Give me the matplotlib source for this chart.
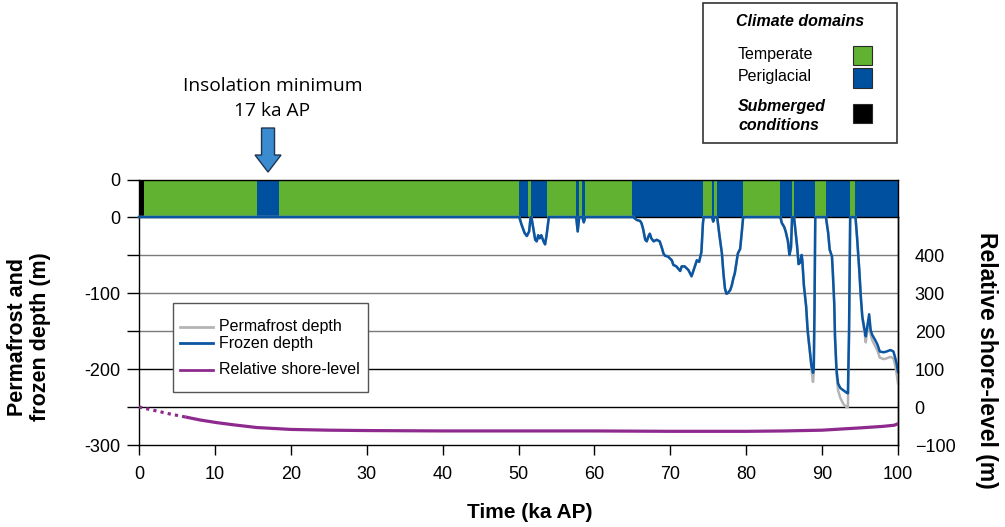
import matplotlib
matplotlib.use("Agg")
import matplotlib.pyplot as plt
from matplotlib.patches import Rectangle, FancyArrow
from matplotlib.lines import Line2D

plt.rcParams["font.family"] = ["Liberation Sans", "DejaVu Sans"]

# ---------------------------
# DATA
# ---------------------------
# climate domain segments (ka AP)
domain_edges = [0, 0.7, 15.6, 18.4, 50.1, 51.2, 51.6, 53.8, 57.6, 58.0, 58.4, 58.8,
                65.0, 74.3, 75.5, 75.8, 76.1, 79.6, 84.5, 86.1, 86.3, 89.1, 90.5,
                93.7, 94.4, 100]
domain_names = ["sub", "temp", "peri", "temp", "peri", "temp", "peri", "temp", "peri",
                "temp", "peri", "temp", "peri", "temp", "peri", "temp", "peri", "temp",
                "peri", "temp", "peri", "temp", "peri", "temp", "peri"]

# frozen / permafrost depth (m)
time_ka = [0.0, 50.1, 50.4, 50.8, 51.1, 51.4, 51.6, 51.7, 52.2, 52.4, 52.6, 52.8,
           53.0, 53.3, 53.5, 53.7, 54.0, 57.6, 57.8, 58.0, 58.4, 58.6, 58.8, 65.1,
           65.6, 66.0, 66.2, 66.4, 66.7, 66.9, 67.1, 67.3, 67.5, 67.8, 68.2, 68.6,
           68.9, 69.1, 69.3, 69.7, 70.2, 70.4, 70.8, 71.3, 71.5, 71.9, 72.4, 72.8,
           73.0, 73.5, 73.8, 74.1, 74.3, 74.4, 75.5, 75.65, 75.8, 76.1, 76.2, 76.5,
           76.8, 77.0, 77.2, 77.4, 77.6, 77.9, 78.1, 78.3, 78.5, 78.7, 78.9, 79.2,
           79.4, 79.6, 84.5, 84.7, 85.0, 85.2, 85.5, 85.7, 85.9, 86.05, 86.3, 86.5,
           86.7, 86.9, 87.1, 87.3, 87.4, 87.6, 87.9, 88.1, 88.4, 88.6, 88.8, 88.9,
           89.0, 89.1, 90.5, 90.8, 91.0, 91.3, 91.4, 91.6, 91.7, 91.9, 92.1, 92.4,
           92.8, 93.2, 93.4, 93.55, 93.7, 94.4, 94.6, 94.9, 95.1, 95.3, 95.6, 95.75,
           95.95, 96.2, 96.4, 96.6, 97.0, 97.3, 97.6, 98.1, 98.5, 99.0, 99.4, 99.6,
           99.8, 100.0]
frozen_depth = [0, 0, -10, -21, -25, -19, 0, 0, -30, -32, -24, -28,
                -24, -32, -36, -24, 0, 0, -19, 0, 0, -7, 0, 0,
                -4, -5, -8, -15, -30, -32, -26, -22, -28, -32, -30, -32,
                -41, -48, -51, -52, -57, -63, -65, -71, -65, -65, -70, -78,
                -72, -57, -59, -46, -8, 0, 0, -6, 0, 0, -2, -26,
                -48, -74, -94, -101, -100, -96, -90, -81, -74, -61, -48, -42,
                -22, 0, 0, -8, -13, -19, -32, -50, -40, 0, 0, -19,
                -38, -62, -60, -50, -58, -90, -118, -150, -178, -196, -205, -200,
                -120, 0, 0, -21, -43, -52, -70, -114, -157, -201, -219, -225,
                -228, -231, -232, -150, 0, 0, -26, -70, -105, -131, -149, -157,
                -144, -128, -149, -155, -162, -168, -177, -178, -177, -175, -177, -184,
                -192, -204]
permafrost_depth = [0, 0, -10, -21, -25, -19, 0, 0, -30, -32, -24, -28,
                    -24, -32, -36, -24, 0, 0, -19, 0, 0, -7, 0, 0,
                    -4, -5, -8, -15, -30, -32, -26, -22, -28, -32, -30, -32,
                    -41, -48, -51, -52, -57, -63, -65, -71, -65, -65, -70, -78,
                    -72, -57, -59, -46, -8, 0, 0, -6, 0, 0, -2, -26,
                    -48, -74, -94, -101, -100, -96, -90, -81, -74, -61, -48, -42,
                    -22, 0, 0, -8, -13, -19, -32, -50, -40, 0, 0, -19,
                    -38, -62, -60, -50, -58, -90, -118, -150, -178, -200, -217, -205,
                    -120, 0, 0, -21, -43, -52, -70, -114, -160, -206, -228, -238,
                    -246, -250, -250, -160, 0, 0, -26, -70, -105, -133, -153, -165,
                    -150, -133, -155, -162, -170, -176, -185, -187, -186, -184, -186, -194,
                    -205, -219]

# relative shore-level (m)
shore_time_dotted = [0, 2, 4, 6.3]
shore_level_dotted = [0, -9, -18, -27]
shore_time = [6.3, 8, 10.2, 12.5, 15.5, 20, 25, 30, 40, 50, 60, 70, 80, 85, 90, 95, 98, 99.5, 100]
shore_level = [-27, -34, -41, -47, -54, -59, -61, -62, -63, -63, -63, -64, -64, -63, -61, -55, -51, -48, -44]

insolation_min_ka = 17

# ---------------------------
# STYLE
# ---------------------------
GREEN = "#62b232"
BLUE = "#0050a0"
LINE_BLUE = "#0a56a2"
GRAY = "#b4b4b4"
PURPLE = "#8e2a8e"
domain_colors = {"sub": "black", "temp": GREEN, "peri": BLUE}

W, H = 1005, 527


def fx(px):
    return px / W


def fy(py):
    return 1 - py / H


fig = plt.figure(figsize=(W / 100, H / 100), dpi=100)

ax = fig.add_axes([fx(139), fy(445), fx(898) - fx(139), fy(217) - fy(445)])
axb = fig.add_axes([fx(139), fy(217), fx(898) - fx(139), fy(180) - fy(217)])
axb.set_zorder(0)
ax.set_zorder(1)
ax.patch.set_visible(False)

# ---------------------------
# CLIMATE DOMAIN BAR
# ---------------------------
segs = [(domain_edges[i], domain_edges[i + 1] - domain_edges[i]) for i in range(len(domain_names))]
axb.broken_barh(segs, (0, 1), facecolors=[domain_colors[d] for d in domain_names], linewidth=0)
axb.set_xlim(0, 100)
axb.set_ylim(0, 1)
axb.set_xticks([])
axb.set_yticks([1])
axb.set_yticklabels(["0"], fontsize=13)
axb.tick_params(axis="y", length=8.5, width=1, pad=5)
axb.spines["bottom"].set_visible(False)
for s in ["top", "left", "right"]:
    axb.spines[s].set_linewidth(1.0)

arrow = FancyArrow(insolation_min_ka, 2.405, 0, -1.19, width=1.71, head_width=3.43,
                   head_length=0.46, length_includes_head=True, transform=axb.transData,
                   clip_on=False, facecolor="#3b8bd0", edgecolor="#1f3550", linewidth=1)
axb.add_patch(arrow)

# ---------------------------
# MAIN AXES: DEPTHS
# ---------------------------
grid_levels = [-50, -100, -150, -200, -250]
grid_colors = ["#7a7a7a", "#7a7a7a", "#7a7a7a", "black", "black"]
for yv, c in zip(grid_levels, grid_colors):
    ax.axhline(yv, color=c, lw=1.0, zorder=1)

ax.set_xlim(0, 100)
ax.set_ylim(-300, 0)
ax.set_xticks(range(0, 101, 10))
ax.set_yticks(range(-300, 1, 50))
ax.set_yticklabels([str(v) if v % 100 == 0 else "" for v in range(-300, 1, 50)])
ax.tick_params(axis="y", length=8.5, width=1, pad=5, labelsize=13)
ax.tick_params(axis="x", length=7, width=1, pad=8, labelsize=13)
for s in ax.spines.values():
    s.set_linewidth(1.0)

# ---------------------------
# RIGHT AXIS: SHORE LEVEL + DEPTH CURVES ON TOP
# ---------------------------
axr = ax.twinx()
axr.set_zorder(2)
axr.set_ylim(-100, 500)
for s in ["top", "left", "bottom"]:
    axr.spines[s].set_visible(False)
axr.spines["right"].set_linewidth(1.0)
axr.plot(shore_time_dotted, shore_level_dotted, color=PURPLE, lw=2.3,
         linestyle=(0, (1, 1.3)), zorder=3)
axr.plot(shore_time, shore_level, color=PURPLE, lw=2.3, zorder=3)
axr.set_yticks(range(-100, 401, 100))
axr.tick_params(axis="y", length=0, pad=12, labelsize=13)

# depth curves drawn on the main scale but above the twin's spines
ax.plot(time_ka, permafrost_depth, color=GRAY, lw=1.8, zorder=3, clip_on=False)
ax.plot(time_ka, frozen_depth, color=LINE_BLUE, lw=1.8, zorder=4, clip_on=False)
ax.spines["top"].set_zorder(2)

# ---------------------------
# LABELS
# ---------------------------
fig.text(fx(29), fy(337), "Permafrost and\nfrozen depth (m)", rotation=90, ha="center",
         va="center", multialignment="center", fontsize=15.5, fontweight="bold", linespacing=1.15)
fig.text(fx(986), fy(360), "Relative shore-level (m)", rotation=-90, ha="center",
         va="center", fontsize=16.5, fontweight="bold")
fig.text(fx(530), fy(512), "Time (ka AP)", ha="center", va="center", fontsize=15,
         fontweight="bold")

fig.text(fx(273), fy(86), "Insolation minimum", ha="center", va="center", fontsize=13.8,
         family=["Open Sans", "DejaVu Sans"])
fig.text(fx(272), fy(111), "17 ka AP", ha="center", va="center", fontsize=13.8,
         family=["Open Sans", "DejaVu Sans"])

# ---------------------------
# LEGEND: LINES (lower left)
# ---------------------------
fig.add_artist(Rectangle((fx(172.7), fy(391.7)), fx(367.7) - fx(172.7), fy(303.3) - fy(391.7),
                         transform=fig.transFigure, facecolor="white", edgecolor="#555555",
                         lw=1.0, zorder=10))
for py, c, lab in [(326.7, GRAY, "Permafrost depth"), (343.3, LINE_BLUE, "Frozen depth"),
                   (370.0, PURPLE, "Relative shore-level")]:
    fig.add_artist(Line2D([fx(180), fx(212.7)], [fy(py), fy(py)], transform=fig.transFigure,
                          color=c, lw=2, zorder=11))
    fig.text(fx(219), fy(py), lab, ha="left", va="center", fontsize=11.5, zorder=11)

# ---------------------------
# LEGEND: CLIMATE DOMAINS (top right)
# ---------------------------
fig.add_artist(Rectangle((fx(703.3), fy(143.3)), fx(896.7) - fx(703.3), fy(3.3) - fy(143.3),
                         transform=fig.transFigure, facecolor="white", edgecolor="#333333",
                         lw=1.2, zorder=10))
fig.text(fx(800), fy(21.7), "Climate domains", ha="center", va="center", fontsize=11.5,
         fontweight="bold", style="italic", zorder=11)
fig.text(fx(738), fy(54), "Temperate", ha="left", va="center", fontsize=11.5, zorder=11)
fig.text(fx(738), fy(76), "Periglacial", ha="left", va="center", fontsize=11.5, zorder=11)
fig.text(fx(738), fy(106), "Submerged", ha="left", va="center", fontsize=11.5,
         fontweight="bold", style="italic", zorder=11)
fig.text(fx(738), fy(125), "conditions", ha="left", va="center", fontsize=11.5,
         fontweight="bold", style="italic", zorder=11)
for top, c in [(45.7, GREEN), (68.3, BLUE), (104.0, "black")]:
    fig.add_artist(Rectangle((fx(852.7), fy(top + 19.3)), fx(871.7) - fx(852.7), 19.3 / H,
                             transform=fig.transFigure, facecolor=c, edgecolor="#2a2a2a",
                             lw=0.8, zorder=11))

fig.savefig("out.png", dpi=100)
